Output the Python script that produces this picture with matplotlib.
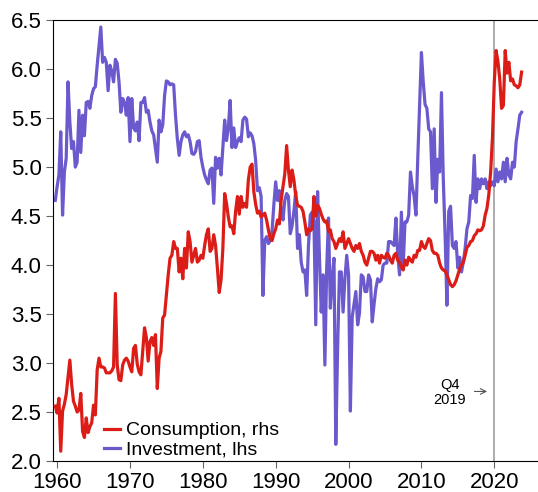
import numpy as np
import matplotlib
matplotlib.use('Agg')
import matplotlib.pyplot as plt

plt.rcParams['font.family'] = ['Liberation Sans', 'DejaVu Sans']

# quarterly series, first point is Q4 1959
start_year = 1959.75

investment = [
    4.66,
    4.80, 4.92, 5.36, 4.51,  # 1960
    4.95, 5.09, 5.87, 5.46,  # 1961
    5.19, 5.26, 5.00, 5.05,  # 1962
    5.58, 5.15, 5.53, 5.32,  # 1963
    5.66, 5.67, 5.60, 5.73,  # 1964
    5.80, 5.82, 6.04, 6.24,  # 1965
    6.43, 6.07, 6.12, 6.07,  # 1966
    5.78, 6.04, 5.98, 5.87,  # 1967
    6.10, 6.06, 5.87, 5.56,  # 1968
    5.70, 5.66, 5.53, 5.71,  # 1969
    5.26, 5.70, 5.40, 5.37,  # 1970
    5.46, 5.27, 5.66, 5.66,  # 1971
    5.71, 5.56, 5.58, 5.46,  # 1972
    5.37, 5.33, 5.19, 5.05,  # 1973
    5.48, 5.36, 5.43, 5.73,  # 1974
    5.88, 5.87, 5.84, 5.85,  # 1975
    5.84, 5.53, 5.29, 5.12,  # 1976
    5.26, 5.33, 5.36, 5.31,  # 1977
    5.33, 5.26, 5.14, 5.13,  # 1978
    5.16, 5.26, 5.27, 5.10,  # 1979
    5.00, 4.92, 4.87, 4.83,  # 1980
    4.97, 4.99, 4.63, 5.10,  # 1981
    4.99, 5.09, 4.92, 5.20,  # 1982
    5.48, 5.27, 5.40, 5.68,  # 1983
    5.20, 5.40, 5.20, 5.26,  # 1984
    5.30, 5.26, 5.48, 5.51,  # 1985
    5.49, 5.31, 5.35, 5.32,  # 1986
    5.24, 5.07, 4.76, 4.79,  # 1987
    4.70, 3.69, 4.25, 4.29,  # 1988
    4.22, 4.25, 4.35, 4.62,  # 1989
    4.85, 4.66, 4.76, 4.56,  # 1990
    4.46, 4.66, 4.73, 4.70,  # 1991
    4.32, 4.40, 4.55, 4.75,  # 1992
    4.17, 4.31, 4.03, 3.93,  # 1993
    3.95, 3.69, 4.20, 4.51,  # 1994
    4.54, 4.45, 3.39, 4.75,  # 1995
    4.10, 3.52, 3.90, 2.98,  # 1996
    3.97, 4.48, 3.56, 3.86,  # 1997
    4.07, 2.17, 3.15, 3.93,  # 1998
    3.93, 3.52, 3.86, 4.10,  # 1999
    3.90, 2.51, 3.47, 3.60,  # 2000
    3.73, 3.39, 3.51, 3.90,  # 2001
    3.88, 3.73, 3.73, 3.90,  # 2002
    3.85, 3.42, 3.60, 3.76,  # 2003
    3.86, 3.83, 3.85, 4.00,  # 2004
    4.02, 4.02, 4.24, 4.24,  # 2005
    4.22, 4.20, 4.48, 4.10,  # 2006
    3.90, 4.54, 4.00, 4.44,  # 2007
    4.44, 4.51, 4.95, 4.80,  # 2008
    4.70, 4.51, 5.09, 5.63,  # 2009
    6.17, 5.87, 5.64, 5.60,  # 2010
    5.39, 5.36, 4.78, 5.39,  # 2011
    4.64, 5.08, 4.95, 5.76,  # 2012
    4.88, 4.31, 3.59, 4.55,  # 2013
    4.60, 4.20, 4.17, 4.24,  # 2014
    3.97, 4.08, 3.93, 4.03,  # 2015
    4.17, 4.37, 4.44, 4.71,  # 2016
    4.68, 5.12, 4.64, 4.88,  # 2017
    4.78, 4.88, 4.83, 4.88,  # 2018
    4.78, 4.85, 4.81, 4.85,  # 2019
    4.81, 4.98, 4.85, 4.95,  # 2020
    4.88, 5.05, 4.85, 5.09,  # 2021
    4.92, 4.88, 5.05, 5.00,  # 2022
    5.26, 5.39, 5.53, 5.56,  # 2023
]

consumption = [
    2.56,
    2.49, 2.64, 2.10, 2.51,  # 1960
    2.58, 2.68, 2.85, 3.03,  # 1961
    2.78, 2.61, 2.56, 2.50,  # 1962
    2.52, 2.69, 2.30, 2.24,  # 1963
    2.44, 2.29, 2.35, 2.39,  # 1964
    2.57, 2.47, 2.93, 3.05,  # 1965
    2.96, 2.96, 2.95, 2.90,  # 1966
    2.90, 2.90, 2.92, 2.96,  # 1967
    3.71, 2.98, 2.83, 2.82,  # 1968
    2.98, 3.03, 3.05, 3.02,  # 1969
    2.96, 2.91, 3.15, 3.18,  # 1970
    2.99, 2.91, 2.88, 3.12,  # 1971
    3.36, 3.26, 3.02, 3.22,  # 1972
    3.26, 3.18, 3.29, 2.74,  # 1973
    3.05, 3.12, 3.46, 3.49,  # 1974
    3.70, 3.90, 4.07, 4.10,  # 1975
    4.24, 4.17, 4.17, 3.93,  # 1976
    4.07, 3.86, 4.17, 3.97,  # 1977
    4.34, 4.24, 4.03, 4.10,  # 1978
    4.17, 4.03, 4.05, 4.10,  # 1979
    4.07, 4.20, 4.31, 4.37,  # 1980
    4.14, 4.17, 4.31, 4.20,  # 1981
    3.97, 3.72, 3.85, 4.17,  # 1982
    4.73, 4.63, 4.49, 4.39,  # 1983
    4.40, 4.32, 4.55, 4.70,  # 1984
    4.52, 4.70, 4.59, 4.63,  # 1985
    4.59, 4.87, 5.00, 5.03,  # 1986
    4.75, 4.62, 4.53, 4.55,  # 1987
    4.49, 4.51, 4.53, 4.46,  # 1988
    4.36, 4.27, 4.25, 4.32,  # 1989
    4.37, 4.46, 4.42, 4.66,  # 1990
    4.80, 4.93, 5.22, 4.97,  # 1991
    4.80, 4.97, 4.87, 4.71,  # 1992
    4.61, 4.60, 4.59, 4.55,  # 1993
    4.44, 4.31, 4.37, 4.35,  # 1994
    4.37, 4.70, 4.50, 4.61,  # 1995
    4.58, 4.52, 4.47, 4.44,  # 1996
    4.45, 4.34, 4.36, 4.27,  # 1997
    4.24, 4.17, 4.22, 4.27,  # 1998
    4.24, 4.34, 4.17, 4.22,  # 1999
    4.27, 4.22, 4.17, 4.14,  # 2000
    4.20, 4.17, 4.22, 4.14,  # 2001
    4.10, 4.03, 4.00, 4.07,  # 2002
    4.14, 4.14, 4.12, 4.05,  # 2003
    4.10, 4.02, 4.10, 4.08,  # 2004
    4.07, 4.12, 4.10, 4.05,  # 2005
    4.02, 4.10, 4.12, 4.05,  # 2006
    4.03, 3.98, 3.95, 4.05,  # 2007
    4.00, 4.08, 4.05, 4.03,  # 2008
    4.10, 4.08, 4.15, 4.15,  # 2009
    4.24, 4.19, 4.17, 4.22,  # 2010
    4.27, 4.25, 4.15, 4.12,  # 2011
    4.12, 4.10, 4.02, 3.97,  # 2012
    3.95, 3.94, 3.90, 3.85,  # 2013
    3.80, 3.78, 3.80, 3.84,  # 2014
    3.90, 3.96, 4.00, 4.03,  # 2015
    4.10, 4.18, 4.20, 4.24,  # 2016
    4.25, 4.30, 4.32, 4.36,  # 2017
    4.35, 4.36, 4.40, 4.51,  # 2018
    4.58, 4.72, 4.95, 5.30,  # 2019
    5.87, 6.19, 6.08, 5.90,  # 2020
    5.60, 5.63, 6.19, 5.96,  # 2021
    6.07, 5.88, 5.90, 5.84,  # 2022
    5.83, 5.81, 5.84, 5.97,  # 2023
]

dates = start_year + 0.25 * np.arange(len(investment))

red = '#dc1c17'
purple = '#6a5acd'

fig = plt.figure(figsize=(5.38, 4.92), dpi=100)
ax = fig.add_axes([0.098, 0.063, 0.902, 0.896])

l_inv, = ax.plot(dates, investment, color=purple, lw=2.3, zorder=2)
l_con, = ax.plot(dates, consumption, color=red, lw=2.3, zorder=3)

ax.axvline(2020, color='#a6a6a6', lw=1.3, zorder=1)
ax.annotate('', xy=(2019.4, 2.71), xytext=(2016.9, 2.71),
            arrowprops=dict(arrowstyle='->', color='#555555', lw=0.8))
ax.text(2013.9, 2.70, 'Q4\n2019', ha='center', va='center', fontsize=10.5,
        linespacing=1.15)

ax.set_xlim(1959.4, 2026)
ax.set_ylim(2.0, 6.5)
ax.set_xticks(range(1960, 2021, 10))
ax.set_yticks(np.arange(2.0, 6.51, 0.5))
ax.yaxis.set_major_formatter(matplotlib.ticker.FormatStrFormatter('%.1f'))
ax.tick_params(labelsize=16, length=5, color='#666666', pad=3)
ax.spines['right'].set_visible(False)

ax.legend([l_con, l_inv], ['Consumption, rhs', 'Investment, lhs'],
          loc='lower left', bbox_to_anchor=(0.07, -0.035), frameon=False,
          fontsize=14, handlelength=0.8, handletextpad=0.3, labelspacing=0.1)

fig.savefig('out.png', dpi=100)
